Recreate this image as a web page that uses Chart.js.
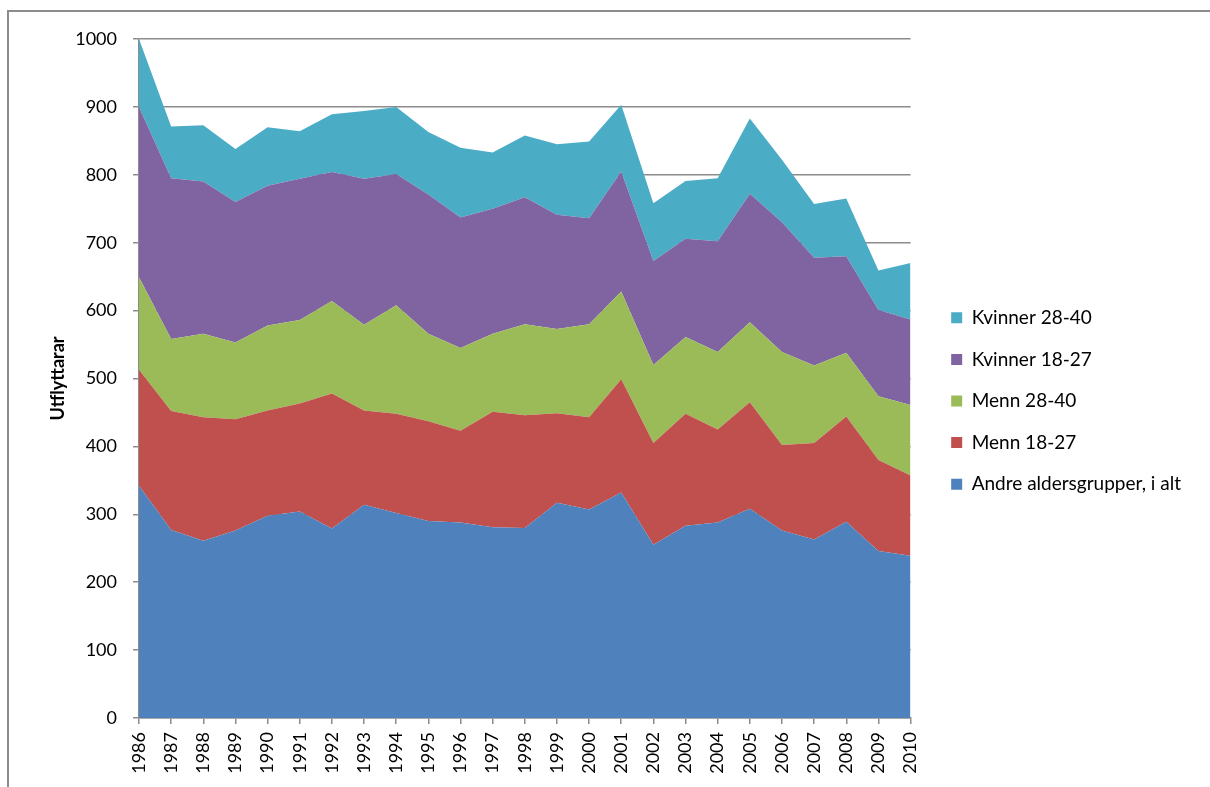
<!DOCTYPE html>
<html>
<head>
<meta charset="utf-8">
<script src="https://cdn.jsdelivr.net/npm/chart.js@4/dist/chart.umd.min.js"></script>
<style>
  html, body { margin: 0; padding: 0; background: #fff; }
  #wrap { position: relative; width: 1210px; height: 787px; overflow: hidden; background: #fff; }
  #frame { position: absolute; left: 7px; top: 10px; width: 1300px; height: 900px;
           border-left: 2px solid #8c8c8c; border-top: 2px solid #8c8c8c; }
  #c { position: absolute; left: 0; top: 0; }
</style>
</head>
<body>
<div id="wrap">
  <div id="frame"></div>
  <canvas id="c" width="1210" height="787"></canvas>
</div>
<script>
const years = ['1986','1987','1988','1989','1990','1991','1992','1993','1994','1995','1996','1997','1998','1999','2000','2001','2002','2003','2004','2005','2006','2007','2008','2009','2010'];
const andre       = [342,277,261,276,298,304,279,314,302,290,288,281,280,317,307,332,255,283,288,308,276,263,289,246,239];
const menn1827    = [171,175,182,164,155,159,199,139,146,147,135,170,166,132,136,167,150,165,137,157,126,142,155,134,118];
const menn2840    = [136,106,123,113,125,123,136,126,160,129,122,115,134,124,137,129,115,113,114,118,137,114,94,94,104];
const kvinner1827 = [251,237,224,207,206,208,190,215,193,205,192,184,187,168,156,177,153,145,163,189,191,159,142,127,126];
const kvinner2840 = [100,76,83,78,86,70,85,100,99,92,103,83,91,104,113,98,85,85,93,111,92,79,85,58,83];
const seriesNames = ['Andre aldersgrupper, i alt','Menn 18-27','Menn 28-40','Kvinner 18-27','Kvinner 28-40'];
const yTickMin = 0, yTickMax = 1000, yTickStep = 100;
const yTitle = 'Utflyttarar';

const colors = ['#4F81BD','#C0504D','#9BBB59','#8064A2','#4BACC6'];
const seriesData = [andre, menn1827, menn2840, kvinner1827, kvinner2840];

Chart.defaults.font.family = 'Lato';
Chart.defaults.color = '#000';

const gridColor = '#8c8c8c';
const legendShiftX = 18;
const legendShiftY = -12;

const datasets = seriesData.map((d, i) => ({
  label: seriesNames[i],
  data: d,
  yAxisID: 'y',
  backgroundColor: colors[i],
  borderColor: colors[i],
  borderWidth: 0,
  pointRadius: 0,
  pointHoverRadius: 0,
  tension: 0,
  fill: i === 0 ? 'origin' : '-1'
}));

const shiftLegend = {
  id: 'shiftLegend',
  afterInit(chart) {
    const lg = chart.legend;
    if (!lg || lg._shifted) return;
    const orig = lg.draw.bind(lg);
    lg.draw = function () {
      const ctx = this.ctx;
      ctx.save();
      ctx.translate(legendShiftX, legendShiftY);
      orig();
      ctx.restore();
    };
    lg._shifted = true;
  }
};

new Chart(document.getElementById('c'), {
  type: 'line',
  data: { labels: years, datasets },
  plugins: [shiftLegend],
  options: {
    responsive: false,
    animation: false,
    devicePixelRatio: 1,
    layout: { padding: { left: 20, top: 39, right: 37, bottom: 0 } },
    plugins: {
      tooltip: { enabled: false },
      legend: {
        position: 'right',
        reverse: true,
        labels: {
          boxWidth: 11,
          boxHeight: 11,
          padding: 22.6,
          color: '#000',
          font: { size: 19 }
        }
      }
    },
    scales: {
      x: {
        type: 'category',
        offset: false,
        grid: { display: true, drawOnChartArea: false, drawTicks: true, tickLength: 6, color: gridColor, lineWidth: 1.5 },
        border: { display: true, color: gridColor, width: 1.5 },
        ticks: { minRotation: 90, maxRotation: 90, autoSkip: false, padding: 8, font: { size: 18 }, color: '#000' },
        afterFit: s => { s.height = 69; }
      },
      y: {
        type: 'linear',
        position: 'left',
        stacked: true,
        min: yTickMin,
        max: yTickMax,
        ticks: { stepSize: yTickStep, padding: 16, font: { size: 18 }, color: '#000', callback: v => String(v) },
        grid: { color: gridColor, lineWidth: 1.5, tickLength: 6, drawTicks: true },
        border: { display: true, color: gridColor, width: 1.5 },
        title: { display: true, text: yTitle, font: { size: 18, weight: 'bold' }, color: '#000', padding: { top: 27, bottom: 0 } },
        afterFit: s => { s.width = 119; }
      }
    }
  }
});
</script>
</body>
</html>
